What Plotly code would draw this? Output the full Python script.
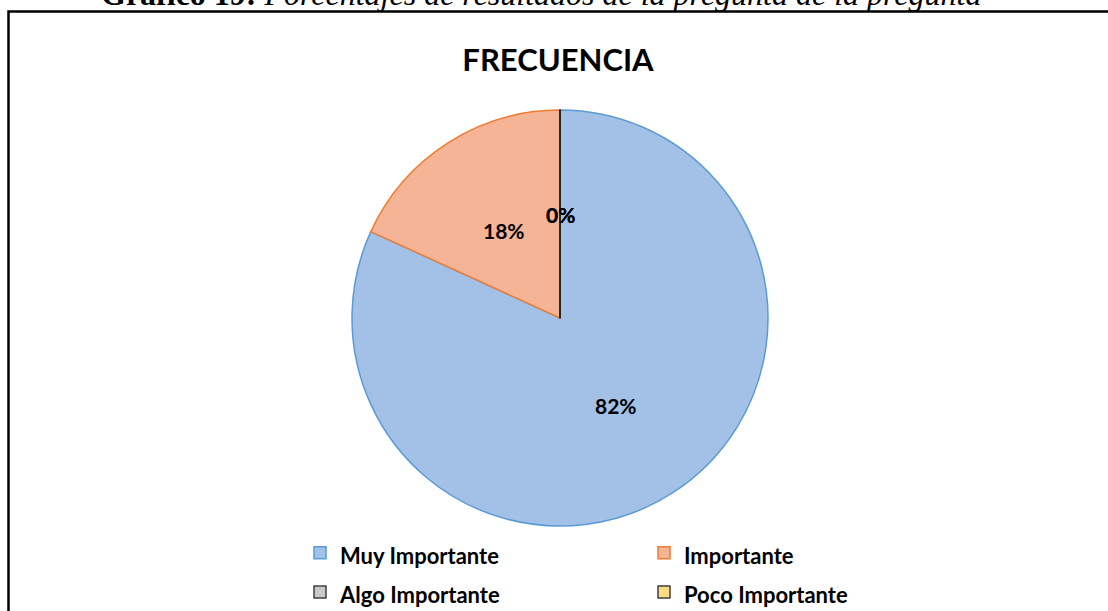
import math
import plotly.graph_objects as go

# ---------------- data ----------------
categories = ["Muy Importante", "Importante", "Algo Importante", "Poco Importante"]
counts = [9, 2, 0, 0]
fill_colors = ["#A3C0E7", "#F5B496", "#C9C9C9", "#FFD984"]
edge_colors = ["#5B9BD5", "#ED7D31", "#404040", "#404040"]
chart_title = "FRECUENCIA"
caption_bold = "Gráfico 19:"
caption_italic = "Porcentajes de resultados de la pregunta de la pregunta"

W, H = 1108, 611
ML, MR = 100, 108          # side margins (narrow plot area so the legend wraps 2 per row)
GW = W - ML - MR

def px(x):                 # page pixel x -> paper fraction
    return (x - ML) / GW
def py(y):                 # page pixel y -> paper fraction
    return 1 - y / H

# pie geometry (pixel box)
cx, cy, r = 560, 318, 208
dom_x = [px(cx - r), px(cx + r)]
dom_y = [py(cy + r), py(cy - r)]

legend_names = ['<span style="font-size:22px">%s</span>' % c for c in categories]

fig = go.Figure()
fig.add_trace(go.Pie(
    labels=legend_names,
    values=counts,
    sort=False,
    direction="clockwise",
    rotation=0,
    marker=dict(colors=fill_colors, line=dict(color=edge_colors, width=1.5)),
    textinfo="none",
    hoverinfo="label+percent",
    domain=dict(x=dom_x, y=dom_y),
    showlegend=True,
))

# percentage labels at half radius, at each slice's mid-angle (computed from data)
total = sum(counts)
cum = 0.0
annotations = []
shapes = []
for c, v in zip(categories, counts):
    frac = v / total
    mid = (cum + frac / 2) * 2 * math.pi
    lx = cx + 0.5 * r * math.sin(mid)
    ly = cy - 0.5 * r * math.cos(mid)
    annotations.append(dict(
        x=px(lx), y=py(ly), xref="paper", yref="paper",
        text="%d%%" % round(frac * 100), showarrow=False,
        font=dict(family="Lato", size=21, color="black", weight="bold"),
        xanchor="center", yanchor="middle",
    ))
    if v == 0:
        ang = cum * 2 * math.pi
        shapes.append(dict(
            type="line", xref="paper", yref="paper",
            x0=px(cx), y0=py(cy),
            x1=px(cx + r * math.sin(ang)), y1=py(cy - r * math.cos(ang)),
            line=dict(color="#262626", width=1.5),
        ))
    cum += frac

# caption (cut at the top of the page)
annotations.append(dict(
    x=px(541), y=py(-6), xref="paper", yref="paper",
    text="<b>%s</b> <i>%s</i>" % (caption_bold, caption_italic),
    showarrow=False, xanchor="center", yanchor="middle",
    font=dict(family="Liberation Serif", size=32, color="black"),
))

# frame: left and top edges
shapes.append(dict(
    type="path", xref="paper", yref="paper",
    path="M %f,%f L %f,%f L %f,%f" % (px(8.5), py(H + 5), px(8.5), py(11.5), px(W + 5), py(11.5)),
    line=dict(color="black", width=2.5),
))

fig.update_layout(
    width=W, height=H,
    margin=dict(l=ML, r=MR, t=0, b=0, autoexpand=False),
    paper_bgcolor="white",
    plot_bgcolor="white",
    title=dict(
        text="<b>%s</b>" % chart_title,
        x=558 / W, y=1 - 60 / H, xanchor="center", yanchor="middle",
        font=dict(family="Lato", size=31, color="black"),
    ),
    legend=dict(
        orientation="h",
        x=px(300), y=py(528), xanchor="left", yanchor="top",
        entrywidth=299, entrywidthmode="pixels",
        font=dict(family="Lato", size=28, color="black", weight="bold"),
        bgcolor="rgba(0,0,0,0)",
        traceorder="normal",
    ),
    annotations=annotations,
    shapes=shapes,
)

fig.write_html(
    "out.html",
    config={"displayModeBar": False},
    post_script="document.body.style.margin='0';document.body.style.overflow='hidden';",
)
